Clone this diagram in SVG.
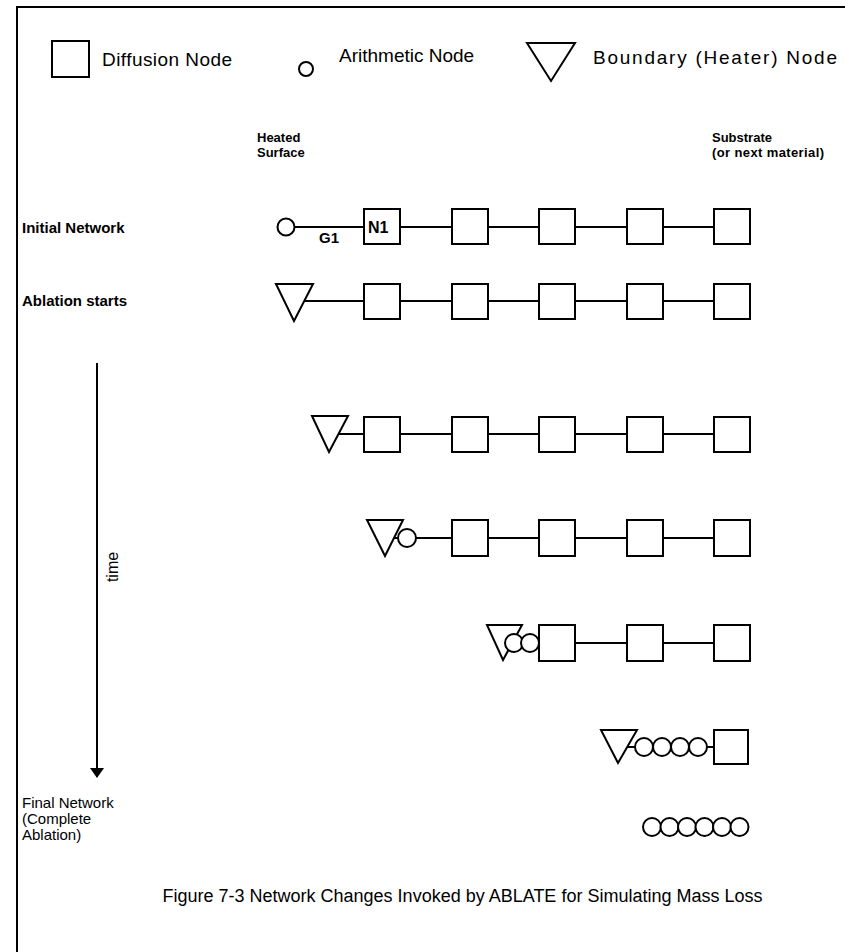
<svg xmlns="http://www.w3.org/2000/svg" width="845" height="952" viewBox="0 0 845 952">
<defs>
<style>
.s{fill:#fff;stroke:#000;stroke-width:2}
.c{fill:#fff;stroke:#000;stroke-width:2}
.l{stroke:#000;stroke-width:2;fill:none}
.t{font-family:"Liberation Sans",Arial,sans-serif;fill:#000}
.g{font-size:18px}
.lg{font-size:19px}
.b{font-size:13px;font-weight:bold}
</style>
<marker id="ah" viewBox="0 0 10 14" refX="9" refY="7" markerWidth="5" markerHeight="7" orient="auto" markerUnits="strokeWidth">
<path d="M0,0 L10,7 L0,14 Z" fill="#000"/>
</marker>
</defs>
<rect width="845" height="952" fill="#fff"/>
<path class="l" d="M17,952 V7 H845"/>

<g id="legend">
<rect class="s" x="52" y="41" width="37" height="36"/>
<text class="t lg" x="102" y="66" textLength="130" lengthAdjust="spacing">Diffusion Node</text>
<circle class="c" cx="306" cy="69" r="7"/>
<text class="t lg" x="339" y="62">Arithmetic Node</text>
<path class="s" d="M527,43 L575,43 L551,81 Z"/>
<text class="t lg" x="593" y="64" textLength="244" lengthAdjust="spacing">Boundary (Heater) Node</text>
</g>

<g id="labels">
<text class="t b" x="257" y="142">Heated</text>
<text class="t b" x="257" y="157">Surface</text>
<text class="t b" x="712" y="142">Substrate</text>
<text class="t b" x="712" y="157" textLength="112" lengthAdjust="spacing">(or next material)</text>
<text class="t" font-size="15" font-weight="bold" x="22" y="233">Initial Network</text>
<text class="t" font-size="15" font-weight="bold" x="22" y="306">Ablation starts</text>
<text class="t" font-size="15" x="22" y="808">Final Network</text>
<text class="t" font-size="15" x="22" y="824">(Complete</text>
<text class="t" font-size="15" x="22" y="840">Ablation)</text>
<text class="t g" x="462.5" y="902" text-anchor="middle">Figure 7-3  Network Changes Invoked by ABLATE for Simulating Mass Loss</text>
<text class="t" font-size="16" transform="translate(118,567) rotate(-90)" text-anchor="middle">time</text>
</g>

<g id="connectors">
<line class="l" x1="97" y1="363" x2="97" y2="777" marker-end="url(#ah)"/>
<!-- row1 -->
<line class="l" x1="295" y1="227" x2="364" y2="227"/>
<line class="l" x1="400" y1="227" x2="452" y2="227"/>
<line class="l" x1="488" y1="227" x2="539" y2="227"/>
<line class="l" x1="575" y1="227" x2="627" y2="227"/>
<line class="l" x1="663" y1="227" x2="714" y2="227"/>
<!-- row2 -->
<line class="l" x1="304" y1="301" x2="364" y2="301"/>
<line class="l" x1="400" y1="301" x2="452" y2="301"/>
<line class="l" x1="488" y1="301" x2="539" y2="301"/>
<line class="l" x1="575" y1="301" x2="627" y2="301"/>
<line class="l" x1="663" y1="301" x2="714" y2="301"/>
<!-- row3 -->
<line class="l" x1="339" y1="434" x2="364" y2="434"/>
<line class="l" x1="400" y1="434" x2="452" y2="434"/>
<line class="l" x1="488" y1="434" x2="539" y2="434"/>
<line class="l" x1="575" y1="434" x2="627" y2="434"/>
<line class="l" x1="663" y1="434" x2="714" y2="434"/>
<!-- row4 -->
<line class="l" x1="394" y1="538" x2="398" y2="538"/>
<line class="l" x1="416" y1="538" x2="452" y2="538"/>
<line class="l" x1="488" y1="538" x2="539" y2="538"/>
<line class="l" x1="575" y1="538" x2="627" y2="538"/>
<line class="l" x1="663" y1="538" x2="714" y2="538"/>
<!-- row5 -->
<line class="l" x1="575" y1="643" x2="627" y2="643"/>
<line class="l" x1="663" y1="643" x2="714" y2="643"/>
<!-- row6 -->
<line class="l" x1="627" y1="747" x2="635" y2="747"/>
<line class="l" x1="707" y1="747" x2="714" y2="747"/>
</g>

<g id="row1">
<circle class="c" cx="286" cy="227" r="8.5"/>
<text class="t" font-size="15" font-weight="bold" x="319" y="243">G1</text>
<rect class="s" x="364" y="209" width="36" height="35"/>
<text class="t" font-size="16" font-weight="bold" x="368" y="233">N1</text>
<rect class="s" x="452" y="209" width="36" height="35"/>
<rect class="s" x="539" y="209" width="36" height="35"/>
<rect class="s" x="627" y="209" width="36" height="35"/>
<rect class="s" x="714" y="209" width="36" height="35"/>
</g>

<g id="row2">
<path class="s" d="M276,284 L313,284 L294,321 Z"/>
<rect class="s" x="364" y="284" width="36" height="35"/>
<rect class="s" x="452" y="284" width="36" height="35"/>
<rect class="s" x="539" y="284" width="36" height="35"/>
<rect class="s" x="627" y="284" width="36" height="35"/>
<rect class="s" x="714" y="284" width="36" height="35"/>
</g>

<g id="row3">
<path class="s" d="M312,416 L348,416 L329,452 Z"/>
<rect class="s" x="364" y="417" width="36" height="35"/>
<rect class="s" x="452" y="417" width="36" height="35"/>
<rect class="s" x="539" y="417" width="36" height="35"/>
<rect class="s" x="627" y="417" width="36" height="35"/>
<rect class="s" x="714" y="417" width="36" height="35"/>
</g>

<g id="row4">
<path class="s" d="M367,520 L403,520 L385,556 Z"/>
<circle class="c" cx="407" cy="538" r="9"/>
<rect class="s" x="452" y="520" width="36" height="36"/>
<rect class="s" x="539" y="520" width="36" height="36"/>
<rect class="s" x="627" y="520" width="36" height="36"/>
<rect class="s" x="714" y="520" width="36" height="36"/>
</g>

<g id="row5">
<path class="s" d="M487,625 L522,625 L503,660 Z"/>
<circle class="c" cx="514" cy="643" r="9"/>
<circle class="c" cx="530" cy="643" r="9"/>
<rect class="s" x="539" y="625" width="36" height="36"/>
<rect class="s" x="627" y="625" width="36" height="36"/>
<rect class="s" x="714" y="625" width="36" height="36"/>
</g>

<g id="row6">
<path class="s" d="M601,730 L637,730 L618,763 Z"/>
<circle class="c" cx="644" cy="747" r="9"/>
<circle class="c" cx="662" cy="747" r="9"/>
<circle class="c" cx="680" cy="747" r="9"/>
<circle class="c" cx="698" cy="747" r="9"/>
<rect class="s" x="714" y="730" width="34" height="34"/>
</g>

<g id="final">
<circle class="c" cx="652" cy="827" r="9"/>
<circle class="c" cx="669.5" cy="827" r="9"/>
<circle class="c" cx="687" cy="827" r="9"/>
<circle class="c" cx="704.5" cy="827" r="9"/>
<circle class="c" cx="722" cy="827" r="9"/>
<circle class="c" cx="739.5" cy="827" r="9"/>
</g>
</svg>
